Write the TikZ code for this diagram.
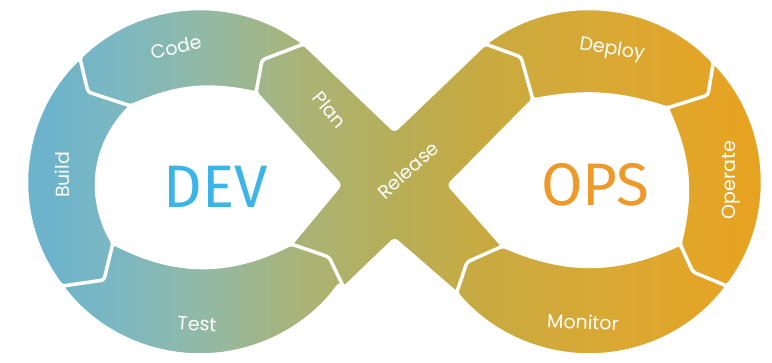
\documentclass[tikz,border=0pt]{standalone}
\usepackage{fontspec}
\setmainfont{Poppins}
\newfontfamily\bigfont{Fira Sans}
\usetikzlibrary{calc}

\definecolor{dvA}{RGB}{108,179,203}
\definecolor{dvB}{RGB}{125,184,192}
\definecolor{dvC}{RGB}{149,185,160}
\definecolor{dvD}{RGB}{168,180,122}
\definecolor{dvE}{RGB}{182,174,88}
\definecolor{dvF}{RGB}{201,170,64}
\definecolor{dvG}{RGB}{217,169,53}
\definecolor{dvH}{RGB}{230,163,34}
\definecolor{devblue}{RGB}{59,180,232}
\definecolor{opsorange}{RGB}{238,154,42}

\pgfdeclarehorizontalshading{loopshade}{100bp}{color(0bp)=(dvA); color(28bp)=(dvA);
  color(33bp)=(dvB); color(39bp)=(dvC); color(44bp)=(dvD); color(50.5bp)=(dvE);
  color(56.5bp)=(dvF); color(64bp)=(dvG); color(73bp)=(dvH); color(100bp)=(dvH)}

% the pieces of the loop
\newcommand\codeseg{(o8) arc[start angle=-53,end angle=-134,radius=173] -- (k1) -- (i1) to[bend left=18] (i8) -- (k8) -- cycle}
\newcommand\buildseg{(o1) arc[start angle=-134,end angle=-217,radius=173] -- (k2) -- (i2) to[bend left=37] (i1) -- (k1) -- cycle}
\newcommand\testseg{(o2) arc[start angle=143,end angle=36,radius=173] -- (o3) -- (k3) -- (i3) to[bend left=27] (i2) -- (k2) -- cycle}
\newcommand\crossseg{(o8) -- (nt) -- (o4) -- (k4) -- (i4) -- (nr) -- (i7) -- (k7) -- (o7) -- (nb) -- (o3) -- (k3) -- (i3) -- (nl) -- (i8) -- (k8) -- cycle}
\newcommand\deployseg{(o4) arc[start angle=-127,end angle=-44,radius=173] -- (k5) -- (i5) to[bend right=14] (i4) -- (k4) -- cycle}
\newcommand\operateseg{(o5) arc[start angle=-44,end angle=37,radius=173] -- (k6) -- (i6) to[bend right=19] (i5) -- (k5) -- cycle}
\newcommand\monitorseg{(o6) arc[start angle=37,end angle=140,radius=173] -- (k7) -- (i7) to[bend right=24] (i6) -- (k6) -- cycle}

\begin{document}
\begin{tikzpicture}[x=1pt,y=-1pt,
    gap/.style={draw=white,line width=3.5pt,line join=round,rounded corners=3pt},
    lbl/.style={text=white,font=\fontsize{19}{19}\selectfont},
    big/.style={font=\bigfont\fontsize{60}{60}\selectfont}]
  \useasboundingbox (0,0) rectangle (772,363);
  % ring centres
  \coordinate (lo) at (200,182);
  \coordinate (ro) at (589,182);
  % joints: outer, kink, inner
  \coordinate (o8) at ($(lo)+(-53:173)$);  \coordinate (k8) at (262,60);  \coordinate (i8) at (256,93);
  \coordinate (o1) at ($(lo)+(-134:173)$); \coordinate (k1) at (88,92);   \coordinate (i1) at (131,106);
  \coordinate (o2) at ($(lo)+(143:173)$);  \coordinate (k2) at (104,280); \coordinate (i2) at (113,243);
  \coordinate (o3) at (344,288);           \coordinate (k3) at (329,257); \coordinate (i3) at (291,244);
  \coordinate (o4) at ($(ro)+(-127:173)$); \coordinate (k4) at (521,57);  \coordinate (i4) at (533,100);
  \coordinate (o5) at ($(ro)+(-44:173)$);  \coordinate (k5) at (708,95);  \coordinate (i5) at (667,108);
  \coordinate (o6) at ($(ro)+(37:173)$);   \coordinate (k6) at (693,272); \coordinate (i6) at (680,244);
  \coordinate (o7) at ($(ro)+(140:173)$);  \coordinate (k7) at (467,262); \coordinate (i7) at (503,246);
  % notches of the cross
  \coordinate (nt) at (394.5,130.5);
  \coordinate (nr) at (449,185);
  \coordinate (nb) at (394.5,239.5);
  \coordinate (nl) at (340,185);

  \begin{scope}
    \clip[rounded corners=3pt] \codeseg \buildseg \testseg \crossseg \deployseg \operateseg \monitorseg;
    \shade[shading=loopshade] (0,0) rectangle (772,363);
  \end{scope}
  \draw[gap] \codeseg \buildseg \testseg \crossseg \deployseg \operateseg \monitorseg;

  \node[lbl,rotate=13] (code) at (176,47) {Code};
  \node[lbl,rotate=90] (build) at (62,175) {Build};
  \node[lbl,rotate=-3] (test) at (197,324) {Test};
  \node[lbl,rotate=-50] (plan) at (330,110) {Plan};
  \node[lbl,rotate=42] (release) at (408,170) {Release};
  \node[lbl,rotate=-9] (deploy) at (612,50) {Deploy};
  \node[lbl,rotate=90] (operate) at (731,180) {Operate};
  \node[lbl,rotate=-3] (monitor) at (583,322) {Monitor};
  \node[big,text=devblue] (dev) at (216,187) {DEV};
  \node[big,text=opsorange] (ops) at (595,185) {OPS};
\end{tikzpicture}
\end{document}
